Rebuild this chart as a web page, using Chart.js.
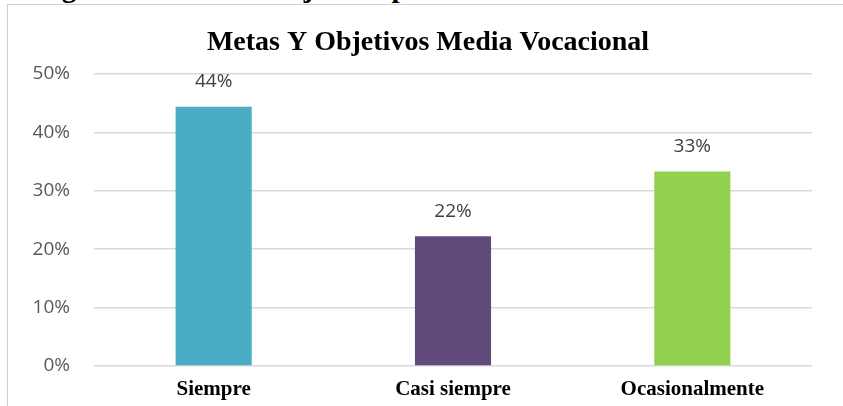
<!DOCTYPE html>
<html>
<head>
<meta charset="utf-8">
<script src="https://cdn.jsdelivr.net/npm/chart.js@4.4.0/dist/chart.umd.min.js"></script>
<style>
  html, body { margin: 0; padding: 0; background: #fff; }
  .wrap { position: relative; width: 843px; height: 406px; overflow: hidden; }
  .frame { position: absolute; left: 7px; top: 4px; width: 850px; height: 420px;
           border-top: 1px solid #cfcfcf; border-left: 1px solid #cfcfcf; }
  .caption { position: absolute; left: 36px; top: -27px; white-space: nowrap;
             font: bold 29px/29px "Liberation Serif", serif; color: #000; }
  canvas { position: absolute; left: 0; top: 0; }
</style>
</head>
<body>
<div class="wrap">
  <div class="caption">Figura 5. Metas Y Objetivos por Media Vocacional</div>
  <div class="frame"></div>
  <canvas id="myChart" width="843" height="406"></canvas>
</div>
<script>
const categorias = ["Siempre", "Casi siempre", "Ocasionalmente"];
const valores = [44.4, 22.2, 33.3];
const etiquetas = ["44%", "22%", "33%"];
const colores = ["#4BACC6", "#604A7B", "#92D050"];
const ticksY = [0, 10, 20, 30, 40, 50];

// etiquetas encima de cada barra
const etiquetasBarras = {
    id: "etiquetasBarras",
    afterDatasetsDraw(chart) {
        const ctx = chart.ctx;
        const meta = chart.getDatasetMeta(0);
        ctx.save();
        ctx.font = "19px 'Open Sans', sans-serif";
        ctx.fillStyle = "#404040";
        ctx.textAlign = "center";
        ctx.textBaseline = "middle";
        meta.data.forEach((bar, i) => {
            ctx.fillText(etiquetas[i], bar.x, bar.y - 25);
        });
        ctx.restore();
    }
};

// el titulo del original no esta centrado en el lienzo
const moverTitulo = {
    id: "moverTitulo",
    afterLayout(chart) {
        chart.titleBlock.left += 22;
        chart.titleBlock.right += 22;
    }
};

const data = {
    labels: categorias,
    datasets: [{
        data: valores,
        backgroundColor: colores,
        borderWidth: 0,
        barPercentage: 0.318,
        categoryPercentage: 1
    }]
};

const config = {
    type: "bar",
    data,
    options: {
        responsive: false,
        animation: false,
        layout: { padding: { top: 25.7, right: 31, bottom: 0, left: 0 } },
        plugins: {
            legend: { display: false },
            tooltip: { enabled: false },
            title: {
                display: true,
                text: "Metas Y Objetivos Media Vocacional",
                color: "#000",
                font: { family: "'Liberation Serif', serif", size: 28, weight: "bold", lineHeight: 1.2 },
                padding: { top: 0, bottom: 14.7 }
            }
        },
        scales: {
            x: {
                grid: { display: false, drawTicks: false },
                border: { display: false },
                ticks: {
                    color: "#000",
                    padding: 11,
                    font: { family: "'Liberation Serif', serif", size: 21, weight: "bold" }
                },
                afterFit(scale) { scale.height = 40; }
            },
            y: {
                min: 0,
                max: 50,
                afterBuildTicks(scale) { scale.ticks = ticksY.map(v => ({ value: v })); },
                grid: { color: "#d9d9d9", lineWidth: 1.5, drawTicks: false },
                border: { display: false },
                ticks: {
                    color: "#595959",
                    padding: 24,
                    font: { family: "'Open Sans', sans-serif", size: 19 },
                    callback: v => v + "%"
                },
                afterFit(scale) { scale.width = 94; }
            }
        }
    },
    plugins: [etiquetasBarras, moverTitulo]
};

const myChart = new Chart(document.getElementById("myChart"), config);
</script>
</body>
</html>
